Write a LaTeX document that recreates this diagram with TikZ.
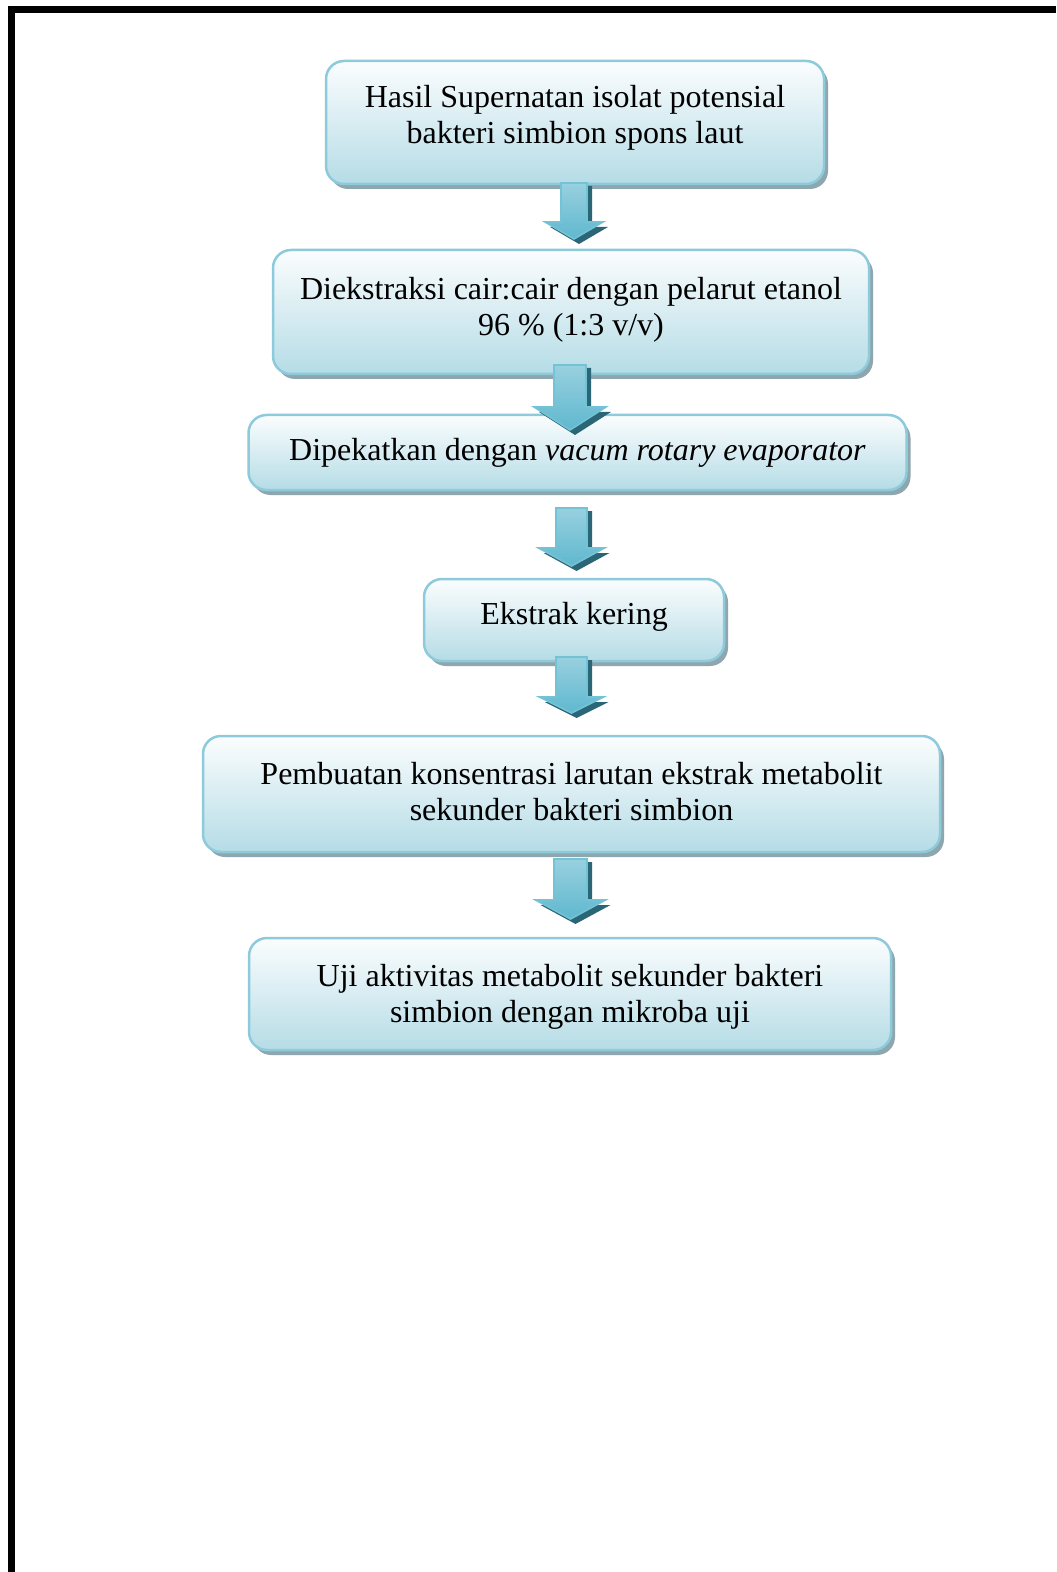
\documentclass[tikz,border=0pt]{standalone}
\usepackage{fontspec}
\setmainfont{Liberation Serif}
\usetikzlibrary{shadows}

\definecolor{boxline}{HTML}{8DCADB}
\definecolor{boxtop}{HTML}{FBFDFE}
\definecolor{boxbot}{HTML}{B5DCE6}
\definecolor{boxshade}{HTML}{8EA7AE}
\definecolor{arrline}{HTML}{74C2D6}
\definecolor{arrtop}{HTML}{98D0DF}
\definecolor{arrmid}{HTML}{44A9C4}
\definecolor{arrbot}{HTML}{5FB8CF}
\definecolor{arrshade}{HTML}{2A6675}

% centred label lines, nudged vertically without changing the box size
\newcommand{\steptext}[2]{\raisebox{#1}[\height][\depth]{\begin{tabular}{@{}c@{}}#2\end{tabular}}}

% block arrow: centre x, top y, tip y, shaft half width, head half width, head height
\newcommand{\flowarrow}[6]{%
  \fill[arrshade] ({#1-#4+5},{#2+3}) -- ({#1+#4+5},{#2+3}) -- ({#1+#4+5},{#3-#6+5})
    -- ({#1+#5+5},{#3-#6+5}) -- ({#1+5},{#3+5}) -- ({#1-#5+5},{#3-#6+5})
    -- ({#1-#4+5},{#3-#6+5}) -- cycle;
  \draw[arrowbody] ({#1-#4},{#2}) -- ({#1+#4},{#2}) -- ({#1+#4},{#3-#6})
    -- ({#1+#5},{#3-#6}) -- ({#1},{#3}) -- ({#1-#5},{#3-#6})
    -- ({#1-#4},{#3-#6}) -- cycle;
}

\begin{document}
\begin{tikzpicture}[x=0.5pt,y=-0.5pt,
  flowbox/.style={rectangle, rounded corners=9pt, draw=boxline, line width=1.25pt,
    top color=boxtop, bottom color=boxbot, align=center,
    font=\fontsize{16}{18}\selectfont, inner sep=0pt,
    drop shadow={shadow xshift=2pt, shadow yshift=-2.5pt, fill=boxshade, opacity=1}},
  arrowbody/.style={draw=arrline, line width=0.8pt, top color=arrtop,
    middle color=arrmid, bottom color=arrbot}]

% page
\fill[white] (0,0) rectangle (1056,1572);
\useasboundingbox (0,0) rectangle (1056,1572);

% page frame (top and left rules)
\fill[black] (8,6) rectangle (1056,13);
\fill[black] (8,6) rectangle (15,1572);

% process steps
\node[flowbox, minimum width=249pt, minimum height=61.5pt] (b1) at (575,122.5)
  {\steptext{2pt}{Hasil Supernatan isolat potensial\\bakteri simbion spons laut}};
\node[flowbox, minimum width=298pt, minimum height=62pt] (b2) at (571,312)
  {\steptext{1pt}{Diekstraksi cair:cair dengan pelarut etanol\\96 \% (1:3 v/v)}};
\node[flowbox, minimum width=329pt, minimum height=37.5pt] (b3) at (577.5,452.5)
  {Dipekatkan dengan \textit{vacum rotary evaporator}};
\node[flowbox, minimum width=150pt, minimum height=41pt] (b4) at (574,620)
  {\steptext{1.5pt}{Ekstrak kering}};
\node[flowbox, minimum width=368.5pt, minimum height=58pt] (b5) at (571.5,794)
  {\steptext{-0.5pt}{Pembuatan konsentrasi larutan ekstrak metabolit\\sekunder bakteri simbion}};
\node[flowbox, minimum width=321pt, minimum height=56pt] (b6) at (570,994)
  {\steptext{-1.4pt}{Uji aktivitas metabolit sekunder bakteri\\simbion dengan mikroba uji}};

% arrows between the steps
\flowarrow{574}{183}{239}{13}{29}{17}
\flowarrow{570}{365}{430}{16}{36}{23}
\flowarrow{571.5}{508}{566}{15.5}{33}{18}
\flowarrow{571.5}{657}{713}{15.5}{32}{16}
\flowarrow{570.5}{859}{919}{16.5}{35}{19}

\end{tikzpicture}
\end{document}
